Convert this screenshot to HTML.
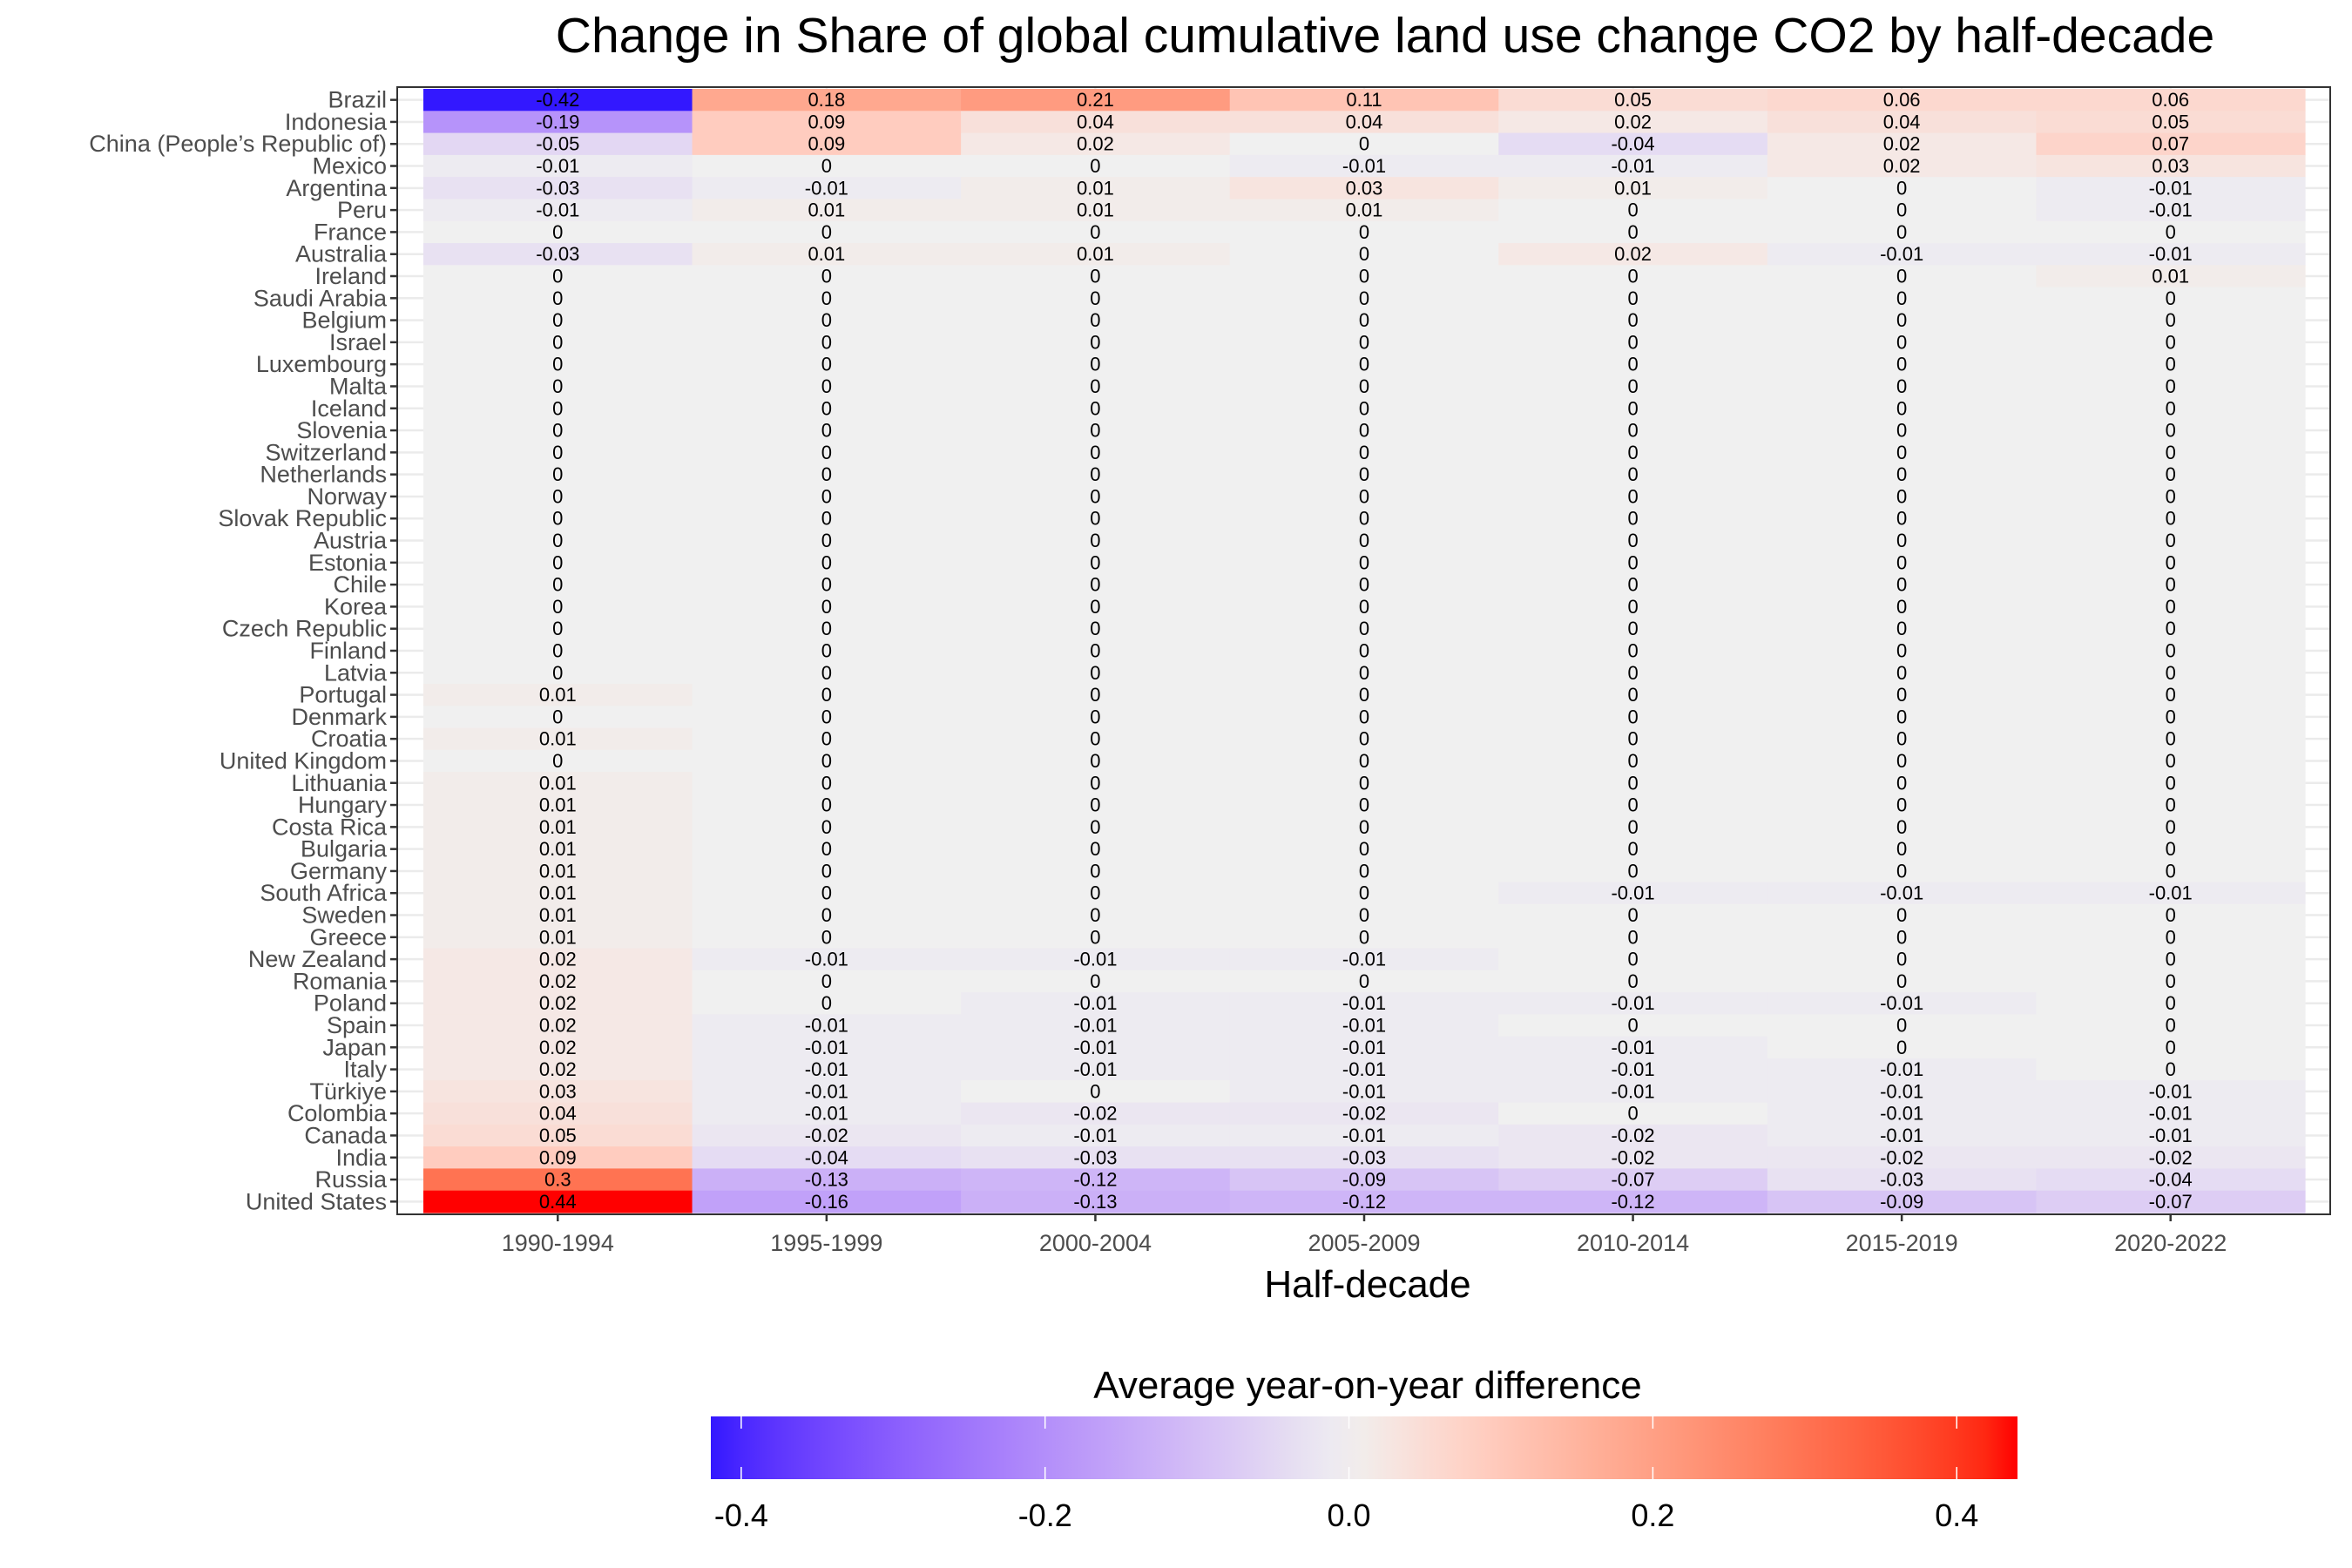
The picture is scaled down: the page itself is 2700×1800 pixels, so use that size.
<!DOCTYPE html>
<html><head><meta charset="utf-8"><style>
html,body{margin:0;padding:0;background:#fff;}
svg{display:block;font-family:"Liberation Sans",Arial,sans-serif;}
</style></head><body>
<svg id="chart" width="2700" height="1800" viewBox="0 0 2700 1800" xmlns="http://www.w3.org/2000/svg">
<defs><linearGradient id="lg" x1="0" x2="1" y1="0" y2="0"></linearGradient></defs>
<text x="1590" y="60" font-size="57" text-anchor="middle" fill="#000">Change in Share of global cumulative land use change CO2 by half-decade</text>
<g id="grid"></g><g id="tiles"></g><g id="labels"></g><g id="axes"></g>
<text x="1570" y="1489" font-size="44" text-anchor="middle" fill="#000">Half-decade</text>
<text x="1570" y="1605" font-size="44" text-anchor="middle" fill="#000">Average year-on-year difference</text>
<g id="legend"></g>
</svg>
<script>
const countries=["Brazil","Indonesia","China (People’s Republic of)","Mexico","Argentina","Peru","France","Australia","Ireland","Saudi Arabia","Belgium","Israel","Luxembourg","Malta","Iceland","Slovenia","Switzerland","Netherlands","Norway","Slovak Republic","Austria","Estonia","Chile","Korea","Czech Republic","Finland","Latvia","Portugal","Denmark","Croatia","United Kingdom","Lithuania","Hungary","Costa Rica","Bulgaria","Germany","South Africa","Sweden","Greece","New Zealand","Romania","Poland","Spain","Japan","Italy","Türkiye","Colombia","Canada","India","Russia","United States"];
const periods=["1990-1994","1995-1999","2000-2004","2005-2009","2010-2014","2015-2019","2020-2022"];
const values=[
[-0.42,0.18,0.21,0.11,0.05,0.06,0.06],
[-0.19,0.09,0.04,0.04,0.02,0.04,0.05],
[-0.05,0.09,0.02,0,-0.04,0.02,0.07],
[-0.01,0,0,-0.01,-0.01,0.02,0.03],
[-0.03,-0.01,0.01,0.03,0.01,0,-0.01],
[-0.01,0.01,0.01,0.01,0,0,-0.01],
[0,0,0,0,0,0,0],
[-0.03,0.01,0.01,0,0.02,-0.01,-0.01],
[0,0,0,0,0,0,0.01],
[0,0,0,0,0,0,0],[0,0,0,0,0,0,0],[0,0,0,0,0,0,0],[0,0,0,0,0,0,0],[0,0,0,0,0,0,0],
[0,0,0,0,0,0,0],[0,0,0,0,0,0,0],[0,0,0,0,0,0,0],[0,0,0,0,0,0,0],[0,0,0,0,0,0,0],
[0,0,0,0,0,0,0],[0,0,0,0,0,0,0],[0,0,0,0,0,0,0],[0,0,0,0,0,0,0],[0,0,0,0,0,0,0],
[0,0,0,0,0,0,0],[0,0,0,0,0,0,0],[0,0,0,0,0,0,0],
[0.01,0,0,0,0,0,0],
[0,0,0,0,0,0,0],
[0.01,0,0,0,0,0,0],
[0,0,0,0,0,0,0],
[0.01,0,0,0,0,0,0],[0.01,0,0,0,0,0,0],[0.01,0,0,0,0,0,0],[0.01,0,0,0,0,0,0],[0.01,0,0,0,0,0,0],
[0.01,0,0,0,-0.01,-0.01,-0.01],
[0.01,0,0,0,0,0,0],
[0.01,0,0,0,0,0,0],
[0.02,-0.01,-0.01,-0.01,0,0,0],
[0.02,0,0,0,0,0,0],
[0.02,0,-0.01,-0.01,-0.01,-0.01,0],
[0.02,-0.01,-0.01,-0.01,0,0,0],
[0.02,-0.01,-0.01,-0.01,-0.01,0,0],
[0.02,-0.01,-0.01,-0.01,-0.01,-0.01,0],
[0.03,-0.01,0,-0.01,-0.01,-0.01,-0.01],
[0.04,-0.01,-0.02,-0.02,0,-0.01,-0.01],
[0.05,-0.02,-0.01,-0.01,-0.02,-0.01,-0.01],
[0.09,-0.04,-0.03,-0.03,-0.02,-0.02,-0.02],
[0.3,-0.13,-0.12,-0.09,-0.07,-0.03,-0.04],
[0.44,-0.16,-0.13,-0.12,-0.12,-0.09,-0.07]];
const legendTicks=[-0.4,-0.2,0,0.2,0.4];
const legendLabels=["-0.4","-0.2","0.0","0.2","0.4"];

const NS="http://www.w3.org/2000/svg";
function mk(t,a,p){const e=document.createElementNS(NS,t);for(const k in a)e.setAttribute(k,a[k]);p.appendChild(e);return e;}
const PL=456,PR=2675,PT=100,PB=1394,TL=486,TR=2646,TT=102,TB=1392;
const cw=(TR-TL)/periods.length, rh=(TB-TT)/countries.length;
const xC=i=>TL+cw*(i+0.5), yC=j=>TT+rh*(j+0.5);
let vmin=Infinity,vmax=-Infinity;values.forEach(r=>r.forEach(v=>{vmin=Math.min(vmin,v);vmax=Math.max(vmax,v);}));
const maxAbs=Math.max(Math.abs(vmin),Math.abs(vmax));
function s2l(c){c/=255;return c<=0.04045?c/12.92:Math.pow((c+0.055)/1.055,2.4);}
function l2s(c){c=c<=0.0031308?12.92*c:1.055*Math.pow(c,1/2.4)-0.055;return Math.max(0,Math.min(255,Math.round(c*255)));}
function toLab(h){const r=s2l(parseInt(h.substr(1,2),16)),g=s2l(parseInt(h.substr(3,2),16)),b=s2l(parseInt(h.substr(5,2),16));
let X=(0.4124*r+0.3576*g+0.1805*b)/0.95047,Y=0.2126*r+0.7152*g+0.0722*b,Zz=(0.0193*r+0.1192*g+0.9505*b)/1.08883;
const f=t=>t>0.008856?Math.cbrt(t):7.787*t+16/116;return [116*f(Y)-16,500*(f(X)-f(Y)),200*(f(Y)-f(Zz))];}
function fromLab(L){const fy=(L[0]+16)/116,fx=fy+L[1]/500,fz=fy-L[2]/200;const fi=t=>t*t*t>0.008856?t*t*t:(t-16/116)/7.787;
const X=fi(fx)*0.95047,Y=fi(fy),Zz=fi(fz)*1.08883;
const r=3.2406*X-1.5372*Y-0.4986*Zz,g=-0.9689*X+1.8758*Y+0.0415*Zz,b=0.0557*X-0.2040*Y+1.0570*Zz;
return "rgb("+l2s(r)+","+l2s(g)+","+l2s(b)+")";}
const LOW=toLab("#0000FF"),MID=toLab("#F0F0F0"),HIGH=toLab("#FF0000");
function color(v){let t=v/maxAbs;t=Math.max(-1,Math.min(1,t));const e=t<0?LOW:HIGH,a=Math.abs(t);return fromLab([0,1,2].map(k=>MID[k]+(e[k]-MID[k])*a));}

const grid=document.getElementById('grid'),tiles=document.getElementById('tiles'),labels=document.getElementById('labels'),axes=document.getElementById('axes');
countries.forEach((c,j)=>{const l=mk('line',{x1:PL,x2:PR,y1:yC(j),y2:yC(j),stroke:'#ebebeb','stroke-width':2.5},grid);
});
periods.forEach((p,i)=>{const l=mk('line',{x1:xC(i),x2:xC(i),y1:PT,y2:PB,stroke:'#ebebeb','stroke-width':2.5},grid);
});
values.forEach((row,j)=>row.forEach((v,i)=>{
const r=mk('rect',{x:TL+cw*i,y:TT+rh*j,width:cw+0.6,height:rh+0.6,fill:color(v)},tiles);

const t=mk('text',{x:xC(i),y:yC(j)+7.5,'font-size':22,'text-anchor':'middle',fill:'#000'},labels);

t.textContent=String(v);}));
const fr=mk('rect',{x:PL,y:PT,width:PR-PL,height:PB-PT,fill:'none',stroke:'#333','stroke-width':2},axes);

countries.forEach((c,j)=>{const tk=mk('line',{x1:PL-8,x2:PL,y1:yC(j),y2:yC(j),stroke:'#333','stroke-width':2.5},axes);

const t=mk('text',{x:PL-12,y:yC(j)+9,'font-size':27,'text-anchor':'end',fill:'#4d4d4d'},axes);
t.textContent=c;});
periods.forEach((p,i)=>{const tk=mk('line',{x1:xC(i),x2:xC(i),y1:PB,y2:PB+8,stroke:'#333','stroke-width':2.5},axes);

const t=mk('text',{x:xC(i),y:PB+42,'font-size':27,'text-anchor':'middle',fill:'#4d4d4d'},axes);
t.textContent=p;});
const lg=document.getElementById('lg');
for(let k=0;k<=40;k++){const v=vmin+(vmax-vmin)*k/40;mk('stop',{offset:(k/40*100)+'%','stop-color':color(v)},lg);}
const LX0=816,LX1=2316,LY0=1626,LY1=1698,leg=document.getElementById('legend');
const lx=v=>LX0+(v-vmin)/(vmax-vmin)*(LX1-LX0);
const bar=mk('rect',{x:LX0,y:LY0,width:LX1-LX0,height:LY1-LY0,fill:'url(#lg)'},leg);

legendTicks.forEach((v,k)=>{
mk('line',{x1:lx(v),x2:lx(v),y1:LY0,y2:LY0+14,stroke:'#fff','stroke-width':1.5},leg);
mk('line',{x1:lx(v),x2:lx(v),y1:LY1-14,y2:LY1,stroke:'#fff','stroke-width':1.5},leg);
const t=mk('text',{x:lx(v),y:1752,'font-size':36,'text-anchor':'middle',fill:'#000'},leg);
t.textContent=legendLabels[k];});
</script>
</body></html>
